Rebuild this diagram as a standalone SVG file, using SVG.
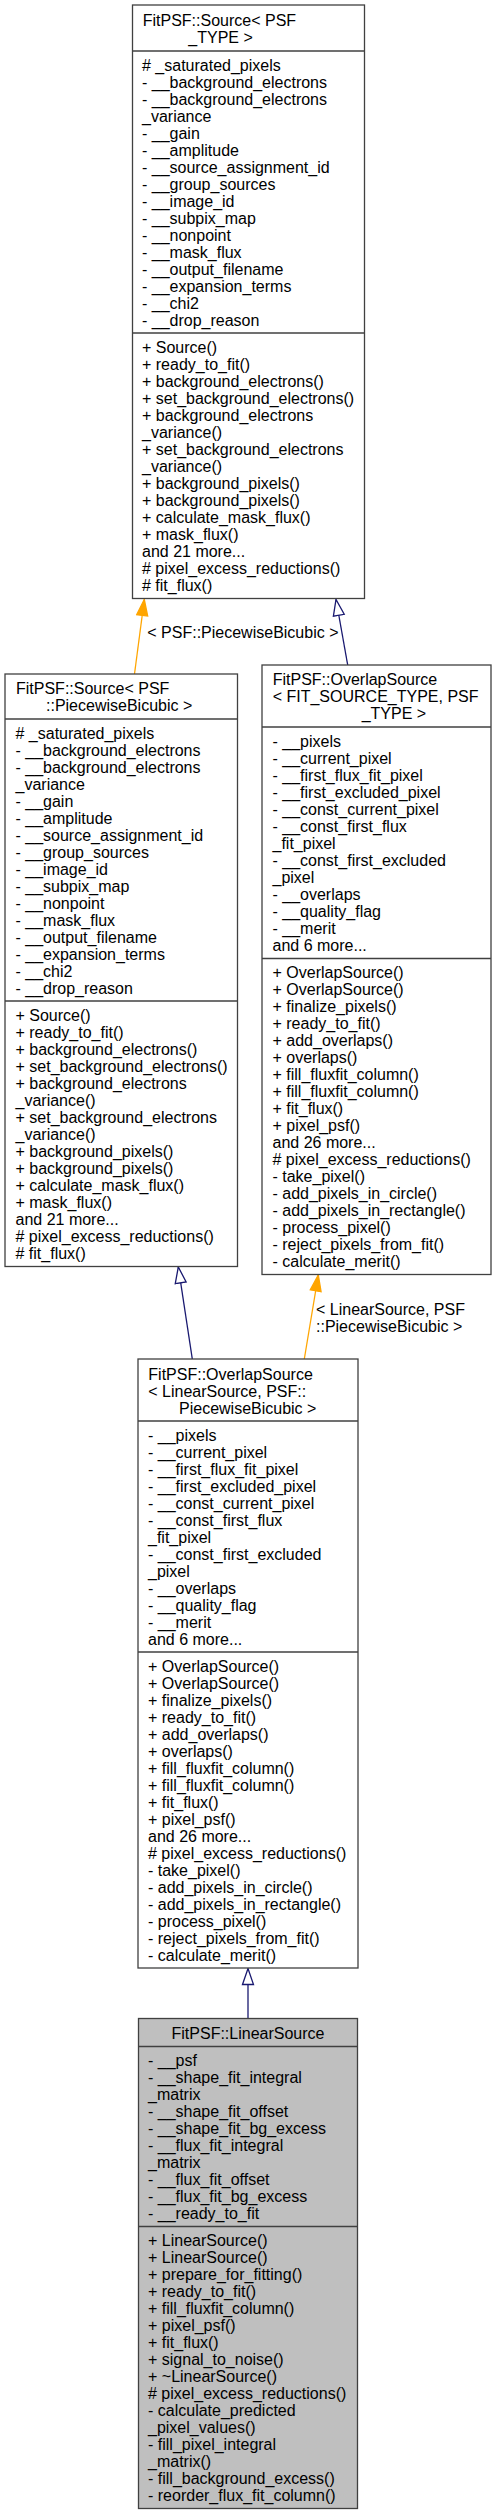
<svg xmlns="http://www.w3.org/2000/svg" width="496" height="2515" viewBox="0 0 496 2515">
<style>
text{font-family:"Liberation Sans",Arial,Helvetica,sans-serif;font-size:16px;fill:#000}
.box{fill:#fff;stroke:#404040;stroke-width:1.3}
.cur{fill:#bfbfbf;stroke:#404040;stroke-width:1.3}
.sep{stroke:#404040;stroke-width:1.3}
.inh{stroke:#191970;stroke-width:1.3;fill:none;marker-end:url(#hollow)}
.tpl{stroke:#ffa500;stroke-width:1.3;fill:none;marker-end:url(#filled)}
</style>
<defs>
<marker id="hollow" markerUnits="userSpaceOnUse" viewBox="-1 -7 19 14" refX="16" refY="0" markerWidth="19" markerHeight="14" orient="auto">
<path d="M0,-5.5 L16,0 L0,5.5 Z" fill="#fff" stroke="#191970" stroke-width="1.3"/>
</marker>
<marker id="filled" markerUnits="userSpaceOnUse" viewBox="-1 -7 19 14" refX="16" refY="0" markerWidth="19" markerHeight="14" orient="auto">
<path d="M0,-5.5 L16,0 L0,5.5 Z" fill="#ffa500" stroke="#ffa500" stroke-width="1.3"/>
</marker>
</defs>

<g id="connectors">
<line class="tpl" x1="134.5" y1="674" x2="144.3" y2="599.5"/>
<text x="147.3" y="637.7">&lt; PSF::PiecewiseBicubic &gt;</text>
<line class="inh" x1="347.7" y1="665" x2="336" y2="599.5"/>
<line class="inh" x1="192.3" y1="1359" x2="178.3" y2="1267"/>
<line class="tpl" x1="304.3" y1="1359" x2="318.3" y2="1275"/>
<text x="316" y="1315">&lt; LinearSource, PSF<tspan x="316" dy="16.7">::PiecewiseBicubic &gt;</tspan></text>
<line class="inh" x1="248" y1="2018.5" x2="248" y2="1968.5"/>
</g>

<g id="node_source_psf_type">
<rect class="box" x="132.5" y="5" width="232" height="593.5"/>
<text x="142.7" y="26">FitPSF::Source&lt; PSF</text>
<text x="188.3" y="43">_TYPE &gt;</text>
<line class="sep" x1="132.5" y1="51" x2="364.5" y2="51"/>
<text x="142" y="70.5"># _saturated_pixels<tspan x="142" dy="17">- __background_electrons</tspan><tspan x="142" dy="17">- __background_electrons</tspan><tspan x="142" dy="17">_variance</tspan><tspan x="142" dy="17">- __gain</tspan><tspan x="142" dy="17">- __amplitude</tspan><tspan x="142" dy="17">- __source_assignment_id</tspan><tspan x="142" dy="17">- __group_sources</tspan><tspan x="142" dy="17">- __image_id</tspan><tspan x="142" dy="17">- __subpix_map</tspan><tspan x="142" dy="17">- __nonpoint</tspan><tspan x="142" dy="17">- __mask_flux</tspan><tspan x="142" dy="17">- __output_filename</tspan><tspan x="142" dy="17">- __expansion_terms</tspan><tspan x="142" dy="17">- __chi2</tspan><tspan x="142" dy="17">- __drop_reason</tspan></text>
<line class="sep" x1="132.5" y1="333" x2="364.5" y2="333"/>
<text x="142" y="352.5">+ Source()<tspan x="142" dy="17">+ ready_to_fit()</tspan><tspan x="142" dy="17">+ background_electrons()</tspan><tspan x="142" dy="17">+ set_background_electrons()</tspan><tspan x="142" dy="17">+ background_electrons</tspan><tspan x="142" dy="17">_variance()</tspan><tspan x="142" dy="17">+ set_background_electrons</tspan><tspan x="142" dy="17">_variance()</tspan><tspan x="142" dy="17">+ background_pixels()</tspan><tspan x="142" dy="17">+ background_pixels()</tspan><tspan x="142" dy="17">+ calculate_mask_flux()</tspan><tspan x="142" dy="17">+ mask_flux()</tspan><tspan x="142" dy="17">and 21 more...</tspan><tspan x="142" dy="17"># pixel_excess_reductions()</tspan><tspan x="142" dy="17"># fit_flux()</tspan></text>
</g>

<g id="node_source_piecewise">
<rect class="box" x="5" y="674" width="232.5" height="592.5"/>
<text x="16" y="694">FitPSF::Source&lt; PSF</text>
<text x="46" y="711">::PiecewiseBicubic &gt;</text>
<line class="sep" x1="5" y1="719" x2="237.5" y2="719"/>
<text x="15.5" y="738.5"># _saturated_pixels<tspan x="15.5" dy="17">- __background_electrons</tspan><tspan x="15.5" dy="17">- __background_electrons</tspan><tspan x="15.5" dy="17">_variance</tspan><tspan x="15.5" dy="17">- __gain</tspan><tspan x="15.5" dy="17">- __amplitude</tspan><tspan x="15.5" dy="17">- __source_assignment_id</tspan><tspan x="15.5" dy="17">- __group_sources</tspan><tspan x="15.5" dy="17">- __image_id</tspan><tspan x="15.5" dy="17">- __subpix_map</tspan><tspan x="15.5" dy="17">- __nonpoint</tspan><tspan x="15.5" dy="17">- __mask_flux</tspan><tspan x="15.5" dy="17">- __output_filename</tspan><tspan x="15.5" dy="17">- __expansion_terms</tspan><tspan x="15.5" dy="17">- __chi2</tspan><tspan x="15.5" dy="17">- __drop_reason</tspan></text>
<line class="sep" x1="5" y1="1001" x2="237.5" y2="1001"/>
<text x="15.5" y="1020.5">+ Source()<tspan x="15.5" dy="17">+ ready_to_fit()</tspan><tspan x="15.5" dy="17">+ background_electrons()</tspan><tspan x="15.5" dy="17">+ set_background_electrons()</tspan><tspan x="15.5" dy="17">+ background_electrons</tspan><tspan x="15.5" dy="17">_variance()</tspan><tspan x="15.5" dy="17">+ set_background_electrons</tspan><tspan x="15.5" dy="17">_variance()</tspan><tspan x="15.5" dy="17">+ background_pixels()</tspan><tspan x="15.5" dy="17">+ background_pixels()</tspan><tspan x="15.5" dy="17">+ calculate_mask_flux()</tspan><tspan x="15.5" dy="17">+ mask_flux()</tspan><tspan x="15.5" dy="17">and 21 more...</tspan><tspan x="15.5" dy="17"># pixel_excess_reductions()</tspan><tspan x="15.5" dy="17"># fit_flux()</tspan></text>
</g>

<g id="node_overlap_generic">
<rect class="box" x="262" y="665" width="229" height="609.5"/>
<text x="272.7" y="685">FitPSF::OverlapSource</text>
<text x="272.7" y="702">&lt; FIT_SOURCE_TYPE, PSF</text>
<text x="361.7" y="719">_TYPE &gt;</text>
<line class="sep" x1="262" y1="727" x2="491" y2="727"/>
<text x="272.5" y="746.5">- __pixels<tspan x="272.5" dy="17">- __current_pixel</tspan><tspan x="272.5" dy="17">- __first_flux_fit_pixel</tspan><tspan x="272.5" dy="17">- __first_excluded_pixel</tspan><tspan x="272.5" dy="17">- __const_current_pixel</tspan><tspan x="272.5" dy="17">- __const_first_flux</tspan><tspan x="272.5" dy="17">_fit_pixel</tspan><tspan x="272.5" dy="17">- __const_first_excluded</tspan><tspan x="272.5" dy="17">_pixel</tspan><tspan x="272.5" dy="17">- __overlaps</tspan><tspan x="272.5" dy="17">- __quality_flag</tspan><tspan x="272.5" dy="17">- __merit</tspan><tspan x="272.5" dy="17">and 6 more...</tspan></text>
<line class="sep" x1="262" y1="958.5" x2="491" y2="958.5"/>
<text x="272.5" y="978">+ OverlapSource()<tspan x="272.5" dy="17">+ OverlapSource()</tspan><tspan x="272.5" dy="17">+ finalize_pixels()</tspan><tspan x="272.5" dy="17">+ ready_to_fit()</tspan><tspan x="272.5" dy="17">+ add_overlaps()</tspan><tspan x="272.5" dy="17">+ overlaps()</tspan><tspan x="272.5" dy="17">+ fill_fluxfit_column()</tspan><tspan x="272.5" dy="17">+ fill_fluxfit_column()</tspan><tspan x="272.5" dy="17">+ fit_flux()</tspan><tspan x="272.5" dy="17">+ pixel_psf()</tspan><tspan x="272.5" dy="17">and 26 more...</tspan><tspan x="272.5" dy="17"># pixel_excess_reductions()</tspan><tspan x="272.5" dy="17">- take_pixel()</tspan><tspan x="272.5" dy="17">- add_pixels_in_circle()</tspan><tspan x="272.5" dy="17">- add_pixels_in_rectangle()</tspan><tspan x="272.5" dy="17">- process_pixel()</tspan><tspan x="272.5" dy="17">- reject_pixels_from_fit()</tspan><tspan x="272.5" dy="17">- calculate_merit()</tspan></text>
</g>

<g id="node_overlap_linear">
<rect class="box" x="138" y="1359" width="220" height="609"/>
<text x="148.3" y="1379.5">FitPSF::OverlapSource</text>
<text x="148.3" y="1396.5">&lt; LinearSource, PSF::</text>
<text x="179" y="1413.5">PiecewiseBicubic &gt;</text>
<line class="sep" x1="138" y1="1421" x2="358" y2="1421"/>
<text x="148" y="1440.5">- __pixels<tspan x="148" dy="17">- __current_pixel</tspan><tspan x="148" dy="17">- __first_flux_fit_pixel</tspan><tspan x="148" dy="17">- __first_excluded_pixel</tspan><tspan x="148" dy="17">- __const_current_pixel</tspan><tspan x="148" dy="17">- __const_first_flux</tspan><tspan x="148" dy="17">_fit_pixel</tspan><tspan x="148" dy="17">- __const_first_excluded</tspan><tspan x="148" dy="17">_pixel</tspan><tspan x="148" dy="17">- __overlaps</tspan><tspan x="148" dy="17">- __quality_flag</tspan><tspan x="148" dy="17">- __merit</tspan><tspan x="148" dy="17">and 6 more...</tspan></text>
<line class="sep" x1="138" y1="1652" x2="358" y2="1652"/>
<text x="148" y="1671.5">+ OverlapSource()<tspan x="148" dy="17">+ OverlapSource()</tspan><tspan x="148" dy="17">+ finalize_pixels()</tspan><tspan x="148" dy="17">+ ready_to_fit()</tspan><tspan x="148" dy="17">+ add_overlaps()</tspan><tspan x="148" dy="17">+ overlaps()</tspan><tspan x="148" dy="17">+ fill_fluxfit_column()</tspan><tspan x="148" dy="17">+ fill_fluxfit_column()</tspan><tspan x="148" dy="17">+ fit_flux()</tspan><tspan x="148" dy="17">+ pixel_psf()</tspan><tspan x="148" dy="17">and 26 more...</tspan><tspan x="148" dy="17"># pixel_excess_reductions()</tspan><tspan x="148" dy="17">- take_pixel()</tspan><tspan x="148" dy="17">- add_pixels_in_circle()</tspan><tspan x="148" dy="17">- add_pixels_in_rectangle()</tspan><tspan x="148" dy="17">- process_pixel()</tspan><tspan x="148" dy="17">- reject_pixels_from_fit()</tspan><tspan x="148" dy="17">- calculate_merit()</tspan></text>
</g>

<g id="node_linear_source">
<rect class="cur" x="138.5" y="2018.5" width="219" height="490"/>
<text x="248" y="2038.5" text-anchor="middle">FitPSF::LinearSource</text>
<line class="sep" x1="138.5" y1="2046.5" x2="357.5" y2="2046.5"/>
<text x="148" y="2066">- __psf<tspan x="148" dy="17">- __shape_fit_integral</tspan><tspan x="148" dy="17">_matrix</tspan><tspan x="148" dy="17">- __shape_fit_offset</tspan><tspan x="148" dy="17">- __shape_fit_bg_excess</tspan><tspan x="148" dy="17">- __flux_fit_integral</tspan><tspan x="148" dy="17">_matrix</tspan><tspan x="148" dy="17">- __flux_fit_offset</tspan><tspan x="148" dy="17">- __flux_fit_bg_excess</tspan><tspan x="148" dy="17">- __ready_to_fit</tspan></text>
<line class="sep" x1="138.5" y1="2226.5" x2="357.5" y2="2226.5"/>
<text x="148" y="2246">+ LinearSource()<tspan x="148" dy="17">+ LinearSource()</tspan><tspan x="148" dy="17">+ prepare_for_fitting()</tspan><tspan x="148" dy="17">+ ready_to_fit()</tspan><tspan x="148" dy="17">+ fill_fluxfit_column()</tspan><tspan x="148" dy="17">+ pixel_psf()</tspan><tspan x="148" dy="17">+ fit_flux()</tspan><tspan x="148" dy="17">+ signal_to_noise()</tspan><tspan x="148" dy="17">+ ~LinearSource()</tspan><tspan x="148" dy="17"># pixel_excess_reductions()</tspan><tspan x="148" dy="17">- calculate_predicted</tspan><tspan x="148" dy="17">_pixel_values()</tspan><tspan x="148" dy="17">- fill_pixel_integral</tspan><tspan x="148" dy="17">_matrix()</tspan><tspan x="148" dy="17">- fill_background_excess()</tspan><tspan x="148" dy="17">- reorder_flux_fit_column()</tspan></text>
</g>
</svg>
